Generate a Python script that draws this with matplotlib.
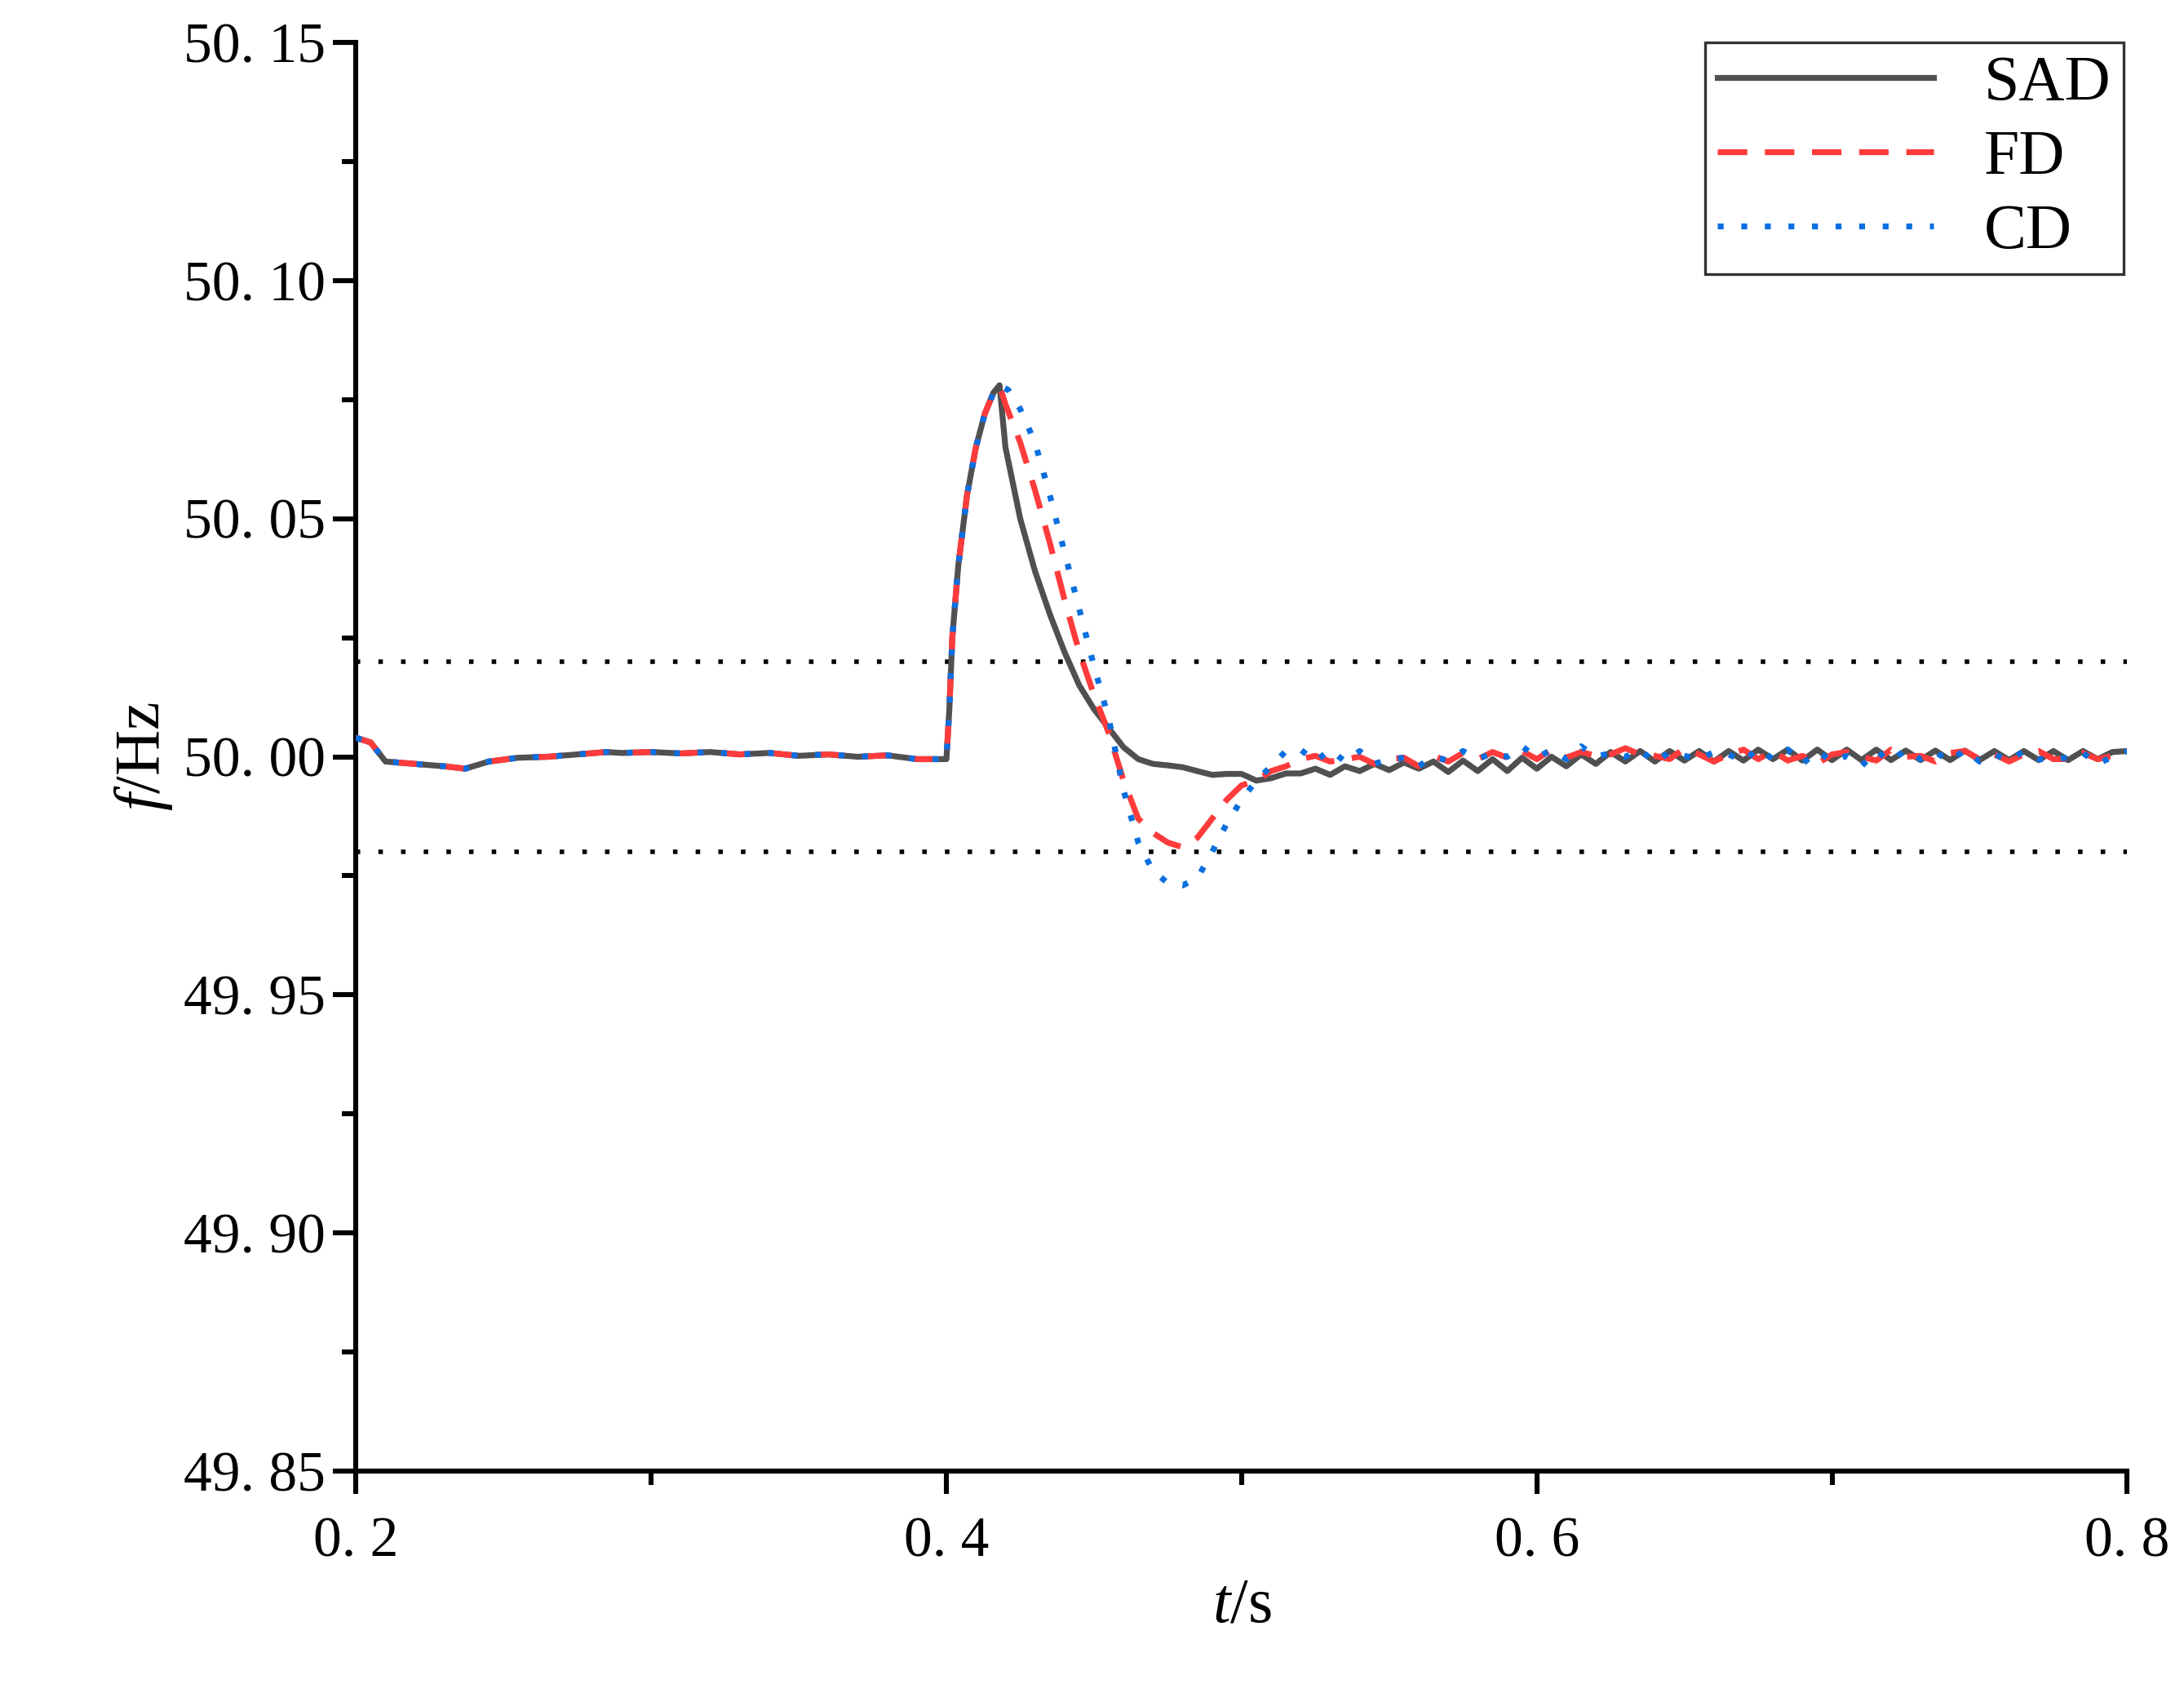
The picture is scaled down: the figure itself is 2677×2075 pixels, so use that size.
import matplotlib
matplotlib.use("Agg")
import matplotlib.pyplot as plt
from matplotlib.ticker import MultipleLocator

plt.rcParams['font.family'] = ['Liberation Serif', 'DejaVu Serif']
plt.rcParams['mathtext.fontset'] = 'custom'
plt.rcParams['mathtext.rm'] = 'Liberation Serif'
plt.rcParams['mathtext.it'] = 'Liberation Serif:italic'

# shared pre-event and rise
t_pre = [0.2,0.205,0.21,0.22,0.23,0.237,0.245,0.255,0.265,0.275,0.285,0.29,0.3,0.31,0.32,0.33,0.34,0.35,0.36,0.37,0.38,0.39,0.398,0.4,
         0.401,0.402,0.404,0.407,0.41,0.413,0.416,0.418]
f_pre = [50.004,50.003,49.999,49.9985,49.998,49.9975,49.999,49.9998,50.0,50.0005,50.001,50.0008,50.001,50.0007,50.001,50.0005,50.0008,50.0002,50.0005,50.0,50.0003,49.9995,49.9995,49.9995,
         50.01,50.025,50.04,50.055,50.065,50.072,50.0765,50.078]

t_sad_mid = [0.42,0.425,0.43,0.435,0.44,0.445,0.45,0.455,0.46,0.465,0.47,0.475,0.48,0.485,0.49,0.495,0.5,0.505,0.51,0.515]
f_sad_mid = [50.065,50.05,50.039,50.03,50.022,50.015,50.01,50.006,50.002,49.9995,49.9985,49.9982,49.9978,49.997,49.9962,49.9964,49.9964,49.995,49.9955,49.9965]

t_fd_mid = [0.42,0.425,0.43,0.435,0.44,0.445,0.45,0.455,0.46,0.465,0.47,0.475,0.48,0.485,0.49,0.495,0.5,0.505,0.51,0.515]
f_fd_mid = [50.074,50.066,50.056,50.045,50.033,50.022,50.013,50.005,49.995,49.987,49.984,49.982,49.981,49.983,49.987,49.991,49.994,49.995,49.997,49.998]

t_cd_mid = [0.421,0.425,0.43,0.435,0.44,0.445,0.45,0.455,0.46,0.465,0.47,0.475,0.48,0.485,0.49,0.495,0.5,0.505,0.51,0.515]
f_cd_mid = [50.077,50.073,50.066,50.055,50.043,50.031,50.019,50.008,49.993,49.982,49.976,49.9735,49.973,49.9745,49.98,49.986,49.991,49.995,49.998,50.0012]

t_late = [0.52,0.525,0.53,0.535,0.54,0.545,0.55,0.555,0.56,0.565,0.57,0.575,0.58,0.585,0.59,0.595,0.6,0.605,0.61,0.615,0.62,0.625,0.63,0.635,0.64,0.645,0.65,0.655,0.66,0.665,0.67,0.675,0.68,0.685,0.69,0.695,0.7,0.705,0.71,0.715,0.72,0.725,0.73,0.735,0.74,0.745,0.75,0.755,0.76,0.765,0.77,0.775,0.78,0.785,0.79,0.795,0.8]
f_sad_late = [49.9965,49.9975,49.9962,49.998,49.997,49.9985,49.9972,49.9988,49.9975,49.999,49.9968,49.9992,49.997,49.9995,49.997,49.9998,49.9975,50.0,49.998,50.0005,49.9985,50.001,49.999,50.0012,49.999,50.0012,49.9992,50.0012,49.999,50.0012,49.9992,50.0015,49.9995,50.0015,49.9992,50.0015,49.9993,50.0015,49.9993,50.0015,49.9993,50.0013,49.9993,50.0013,49.9993,50.0013,49.9993,50.0012,49.9993,50.0012,49.9993,50.0012,49.9993,50.0012,49.9995,50.001,50.0012]
f_fd_late = [49.9995,50.0002,49.999,49.9995,50.0,49.9985,49.9995,49.9998,49.998,50.0002,49.999,50.0008,49.9995,50.001,49.9998,50.0012,49.9995,50.0015,49.9998,50.001,50.0002,50.0005,50.0018,50.0005,50.0002,49.9995,50.0018,50.0005,49.999,50.0005,50.0015,49.9995,50.0012,49.9992,50.0002,49.9985,50.0005,50.001,50.0,49.9992,50.0015,50.0,50.0002,49.999,50.0008,50.0012,49.9995,50.0005,49.999,50.0005,50.0012,49.9995,49.9995,50.0008,49.9995,50.0002,50.0012]
f_cd_late = [50.0015,49.999,50.0015,49.999,50.0012,49.9985,49.9995,49.9998,49.998,50.0,49.9992,50.0012,49.9995,50.0008,50.0,50.0022,49.9998,50.0015,49.9995,50.0022,50.0,50.0008,50.0,50.0015,49.9988,50.001,50.0002,49.9995,50.001,50.0005,49.999,50.0018,49.9995,50.0015,49.9985,50.0012,49.999,50.0002,49.998,50.0012,49.999,50.0015,49.9995,50.001,49.999,50.0015,49.999,50.0005,49.9992,50.0012,49.9995,49.9995,49.9998,50.0008,49.9985,50.0,50.0012]

upper_band = 50.02
lower_band = 49.98

fig = plt.figure(figsize=(13.385, 10.375), dpi=200)
ax = fig.add_axes([0.163, 0.131, 0.811, 0.844])

ax.axhline(upper_band, color='black', ls=(0, (1, 4)), lw=2.0)
ax.axhline(lower_band, color='black', ls=(0, (1, 4)), lw=2.0)

ax.plot(t_pre + t_sad_mid + t_late, f_pre + f_sad_mid + f_sad_late, color='#505050', lw=2.6, label='SAD', zorder=3)
ax.plot(t_pre + t_fd_mid + t_late, f_pre + f_fd_mid + f_fd_late, color='#ff3b3b', lw=2.6, ls=(0, (5, 3)), label='FD', zorder=4)
ax.plot(t_pre + t_cd_mid + t_late, f_pre + f_cd_mid + f_cd_late, color='#0a6fe0', lw=2.6, ls=(0, (1, 3)), label='CD', zorder=5)

ax.set_xlim(0.2, 0.8)
ax.set_ylim(49.85, 50.15)
ax.set_xticks([0.2, 0.4, 0.6, 0.8])
ax.set_xticklabels(['0. 2', '0. 4', '0. 6', '0. 8'])
ax.set_yticks([49.85, 49.90, 49.95, 50.00, 50.05, 50.10, 50.15])
ax.set_yticklabels(['49. 85', '49. 90', '49. 95', '50. 00', '50. 05', '50. 10', '50. 15'])
ax.xaxis.set_minor_locator(MultipleLocator(0.1))
ax.yaxis.set_minor_locator(MultipleLocator(0.025))
for s in ['top', 'right']:
    ax.spines[s].set_visible(False)
for s in ['left', 'bottom']:
    ax.spines[s].set_linewidth(2.2)
ax.tick_params(which='major', length=10, width=2.2, labelsize=25, direction='out')
ax.tick_params(which='minor', length=6, width=2.2, direction='out')
ax.tick_params(axis='x', pad=10)

ax.set_xlabel(r'$\mathit{t}$/s', fontsize=28)
ax.set_ylabel(r'$\mathit{f}$/Hz', fontsize=28)

leg = ax.legend(loc='upper right', bbox_to_anchor=(0.998, 1.0), fontsize=28, frameon=True, fancybox=False,
                edgecolor='black', handlelength=3.4, borderpad=0.2, labelspacing=0.25, borderaxespad=0)
leg.get_frame().set_linewidth(1.2)

fig.savefig('out.png', dpi=200)
